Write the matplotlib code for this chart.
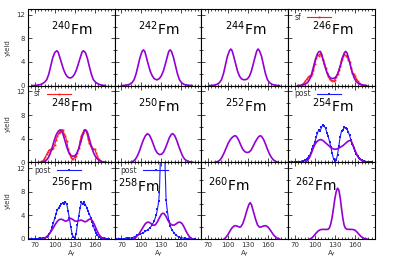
import matplotlib
matplotlib.use("Agg")
import matplotlib.pyplot as plt
from matplotlib.ticker import MultipleLocator

# ---------------- data ----------------
nuclei = ["240", "242", "244", "246", "248", "250", "252", "254", "256", "258", "260", "262"]

fm240_x = [66, 72, 78, 82, 85, 88, 91, 94, 97, 100, 103, 105, 107, 110, 113, 116, 119, 122, 124, 127, 130, 133, 136, 139, 141, 143, 146, 149, 152, 155, 158, 161, 164, 168, 172, 176]
fm240_y = [0, 0.05, 0.15, 0.35, 0.6, 1.0, 1.9, 3.3, 4.7, 5.6, 5.9, 5.7, 5.0, 3.9, 2.8, 2.0, 1.5, 1.3, 1.3, 1.5, 2.0, 2.8, 3.9, 5.0, 5.7, 5.9, 5.6, 4.6, 3.2, 1.9, 1.0, 0.6, 0.35, 0.15, 0.05, 0]

fm242_x = [70, 76, 82, 86, 89, 92, 95, 98, 101, 103, 105, 107, 110, 113, 116, 119, 122, 124, 127, 130, 133, 136, 139, 141, 143, 145, 148, 151, 154, 157, 160, 164, 170, 176]
fm242_y = [0, 0.05, 0.2, 0.5, 1.0, 2.0, 3.4, 4.8, 5.8, 6.05, 5.8, 5.0, 3.7, 2.5, 1.7, 1.2, 1.0, 1.0, 1.2, 1.7, 2.5, 3.7, 5.0, 5.8, 6.05, 5.8, 4.8, 3.4, 2.0, 1.0, 0.5, 0.2, 0.05, 0]

fm244_x = [72, 78, 83, 87, 90, 93, 96, 99, 102, 104, 106, 108, 111, 114, 117, 120, 123, 126, 129, 132, 135, 138, 141, 143, 145, 147, 150, 153, 156, 159, 162, 166, 171, 177]
fm244_y = [0, 0.05, 0.2, 0.5, 1.0, 2.0, 3.5, 5.0, 5.9, 6.2, 5.9, 5.1, 3.8, 2.5, 1.6, 1.15, 1.0, 1.0, 1.15, 1.6, 2.5, 3.8, 5.1, 5.9, 6.2, 5.9, 5.0, 3.5, 2.0, 1.0, 0.5, 0.2, 0.05, 0]

fm246_x = [74, 80, 85, 89, 92, 95, 98, 101, 104, 106, 108, 110, 112, 115, 118, 121, 124, 127, 130, 133, 136, 139, 142, 144, 146, 148, 150, 153, 156, 159, 162, 166, 171, 178]
fm246_y = [0, 0.05, 0.2, 0.5, 1.0, 1.9, 3.2, 4.5, 5.4, 5.75, 5.8, 5.4, 4.6, 3.4, 2.3, 1.6, 1.25, 1.2, 1.3, 1.7, 2.5, 3.6, 4.8, 5.5, 5.8, 5.6, 4.9, 3.6, 2.3, 1.3, 0.7, 0.3, 0.1, 0]

sf246_x = [78, 80, 82, 84, 86, 88, 90, 92, 94, 96, 98, 100, 102, 104, 106, 108, 110, 112, 114, 116, 118, 120, 122, 124, 126, 128, 130, 132, 134, 136, 138, 140, 142, 144, 146, 148, 150, 152, 154, 156, 158, 160, 162, 164, 166, 168, 170, 172, 174]
sf246_y = [0, 0.1, 0.3, 0.5, 0.8, 1.1, 1.4, 1.6, 1.7, 1.9, 2.6, 3.6, 4.6, 5.2, 5.1, 5.4, 5.2, 4.4, 3.6, 2.9, 2.2, 1.6, 1.1, 0.9, 0.8, 0.8, 1.0, 1.4, 2.0, 2.7, 3.4, 4.5, 5.0, 5.3, 5.1, 5.0, 4.4, 4.0, 3.0, 2.2, 2.0, 1.6, 1.2, 0.8, 0.5, 0.3, 0.15, 0.05, 0]

fm248_x = [78, 83, 87, 90, 93, 96, 99, 102, 105, 108, 110, 112, 115, 118, 121, 124, 127, 130, 133, 136, 139, 142, 144, 146, 148, 150, 153, 156, 159, 162, 166, 171, 177]
fm248_y = [0, 0.1, 0.3, 0.7, 1.4, 2.4, 3.6, 4.6, 5.2, 5.5, 5.4, 4.9, 3.8, 2.6, 1.7, 1.2, 1.0, 1.1, 1.5, 2.3, 3.4, 4.6, 5.2, 5.5, 5.3, 4.7, 3.5, 2.3, 1.4, 0.8, 0.35, 0.1, 0]

sf248_x = [80, 82, 84, 86, 88, 90, 92, 94, 96, 98, 100, 102, 104, 106, 108, 110, 112, 114, 116, 118, 120, 122, 124, 126, 128, 130, 132, 134, 136, 138, 140, 142, 144, 146, 148, 150, 152, 154, 156, 158, 160, 162, 164, 166, 168, 170]
sf248_y = [0, 0.2, 0.5, 0.9, 1.4, 1.8, 2.1, 2.2, 2.3, 2.5, 3.0, 3.8, 4.4, 4.9, 5.2, 5.4, 5.5, 4.8, 4.4, 3.6, 2.3, 1.5, 0.9, 0.6, 0.5, 0.9, 1.1, 1.6, 2.4, 3.6, 4.5, 5.0, 5.5, 5.5, 5.0, 4.0, 3.2, 2.7, 2.4, 2.3, 2.2, 1.6, 1.0, 0.5, 0.2, 0]

fm250_x = [84, 88, 91, 94, 97, 100, 103, 106, 109, 112, 115, 118, 121, 124, 127, 130, 133, 136, 139, 142, 145, 147, 150, 153, 156, 159, 162, 165, 169, 173, 177]
fm250_y = [0, 0.2, 0.5, 1.1, 1.9, 2.9, 3.8, 4.5, 4.85, 4.6, 3.9, 3.0, 2.1, 1.55, 1.3, 1.35, 1.7, 2.4, 3.3, 4.2, 4.75, 4.85, 4.5, 3.7, 2.7, 1.8, 1.0, 0.5, 0.2, 0.05, 0]

fm252_x = [80, 84, 88, 91, 94, 97, 100, 103, 106, 109, 111, 113, 116, 119, 122, 125, 128, 131, 134, 137, 140, 143, 146, 148, 150, 153, 156, 159, 162, 165, 168, 171, 175]
fm252_y = [0, 0.1, 0.4, 0.9, 1.6, 2.4, 3.2, 3.8, 4.2, 4.45, 4.5, 4.3, 3.7, 2.9, 2.2, 1.8, 1.65, 1.7, 2.0, 2.6, 3.3, 3.9, 4.35, 4.5, 4.4, 3.9, 3.1, 2.2, 1.4, 0.8, 0.4, 0.15, 0]

fm254_x = [85, 89, 92, 95, 98, 101, 104, 107, 109, 112, 115, 118, 121, 124, 127, 130, 133, 136, 139, 142, 145, 148, 151, 153, 155, 157, 159, 161, 164, 167, 171, 175, 180]
fm254_y = [0, 0.3, 0.8, 1.6, 2.5, 3.2, 3.6, 3.8, 3.85, 3.7, 3.4, 3.1, 2.8, 2.5, 2.3, 2.2, 2.25, 2.4, 2.6, 2.8, 3.1, 3.4, 3.65, 3.7, 3.5, 3.0, 2.4, 1.8, 1.1, 0.6, 0.25, 0.08, 0]

post254_x = [62, 66, 70, 74, 78, 82, 86, 88, 90, 92, 94, 96, 98, 100, 102, 104, 106, 108, 110, 112, 114, 116, 118, 120, 122, 124, 126, 128, 130, 132, 134, 136, 138, 140, 142, 144, 146, 148, 150, 152, 154, 156, 158, 160, 162, 164, 166, 168, 170, 172, 174, 178, 182, 186]
post254_y = [0.05, 0.05, 0.05, 0.1, 0.1, 0.2, 0.4, 0.6, 0.8, 1.1, 1.6, 2.2, 2.8, 3.4, 4.2, 5.0, 5.5, 5.3, 5.9, 6.3, 6.1, 5.8, 5.0, 4.4, 3.5, 2.6, 1.5, 0.6, 0.2, 0.3, 1.3, 2.8, 4.3, 5.3, 5.4, 5.9, 5.8, 5.7, 5.2, 4.6, 3.8, 3.1, 2.5, 1.9, 1.4, 1.0, 0.7, 0.5, 0.35, 0.25, 0.15, 0.08, 0.05, 0.02]

fm256_x = [82, 86, 90, 94, 98, 101, 104, 107, 110, 113, 116, 119, 122, 124, 127, 130, 133, 136, 139, 142, 145, 148, 151, 154, 157, 160, 163, 166, 169, 172, 175]
fm256_y = [0, 0.2, 0.6, 1.2, 1.9, 2.5, 3.0, 3.3, 3.35, 3.2, 3.0, 3.1, 3.4, 3.5, 3.3, 3.05, 3.0, 3.1, 3.2, 3.1, 2.9, 3.0, 3.3, 3.4, 3.0, 2.3, 1.5, 0.8, 0.35, 0.1, 0]

post256_x = [62, 66, 70, 74, 78, 82, 86, 88, 90, 92, 94, 96, 98, 100, 102, 104, 106, 108, 110, 112, 114, 116, 118, 120, 122, 124, 126, 128, 130, 132, 134, 136, 138, 140, 142, 144, 146, 148, 150, 152, 154, 156, 158, 160, 162, 164, 166, 168, 170, 174, 178, 182]
post256_y = [0.05, 0.05, 0.05, 0.05, 0.1, 0.1, 0.2, 0.3, 0.5, 0.8, 1.3, 2.0, 2.7, 3.5, 4.3, 4.9, 5.3, 5.6, 5.9, 6.1, 6.0, 6.2, 5.9, 4.8, 3.5, 2.0, 0.9, 0.3, 0.2, 0.9, 2.4, 3.9, 5.2, 6.2, 6.0, 6.2, 5.8, 5.3, 4.7, 4.2, 3.6, 2.9, 2.2, 1.5, 1.0, 0.6, 0.4, 0.3, 0.2, 0.1, 0.05, 0.02]

fm258_x = [88, 92, 96, 100, 103, 106, 109, 112, 115, 118, 121, 124, 127, 130, 132, 134, 137, 140, 143, 146, 149, 152, 155, 158, 161, 164, 167, 170, 173, 176]
fm258_y = [0, 0.3, 0.8, 1.5, 2.1, 2.6, 2.85, 2.8, 2.55, 2.3, 2.4, 2.9, 3.6, 4.2, 4.35, 4.3, 3.8, 3.1, 2.6, 2.35, 2.35, 2.55, 2.8, 2.85, 2.6, 2.0, 1.3, 0.7, 0.25, 0]

post258_x = [62, 66, 70, 74, 78, 82, 86, 90, 94, 98, 102, 106, 110, 113, 116, 119, 122, 124, 126, 127, 129, 131, 133, 135, 137, 139, 141, 143, 146, 149, 152, 156, 160, 165, 170, 175, 180]
post258_y = [0.05, 0.05, 0.05, 0.05, 0.1, 0.1, 0.2, 0.4, 0.6, 0.8, 1.0, 1.3, 1.6, 1.9, 2.4, 3.0, 4.0, 5.0, 6.5, 8.0, 16.0, 22.0, 21.0, 14.0, 6.6, 4.6, 3.1, 2.2, 1.5, 1.0, 0.6, 0.35, 0.2, 0.1, 0.05, 0.05, 0.02]

fm260_x = [94, 97, 100, 103, 106, 109, 111, 114, 117, 119, 122, 125, 128, 131, 133, 135, 138, 141, 144, 147, 150, 153, 156, 159, 162, 165, 168, 171, 174, 177]
fm260_y = [0, 0.3, 0.8, 1.4, 1.9, 2.2, 2.25, 2.15, 2.0, 2.05, 2.6, 3.6, 4.8, 5.8, 6.15, 5.8, 4.6, 3.4, 2.4, 2.0, 2.05, 2.2, 2.25, 2.1, 1.7, 1.2, 0.7, 0.35, 0.1, 0]

fm262_x = [93, 96, 99, 102, 105, 108, 111, 114, 117, 120, 122, 124, 126, 128, 130, 132, 134, 136, 138, 140, 142, 144, 146, 148, 151, 154, 157, 160, 163, 166, 169, 172, 175, 178]
fm262_y = [0, 0.2, 0.6, 1.0, 1.35, 1.55, 1.62, 1.62, 1.6, 1.65, 1.9, 2.6, 3.7, 5.2, 6.8, 8.0, 8.6, 8.3, 7.0, 5.2, 3.5, 2.3, 1.8, 1.65, 1.62, 1.62, 1.6, 1.5, 1.2, 0.8, 0.45, 0.2, 0.05, 0]

theory = {"240": (fm240_x, fm240_y), "242": (fm242_x, fm242_y), "244": (fm244_x, fm244_y),
          "246": (fm246_x, fm246_y), "248": (fm248_x, fm248_y), "250": (fm250_x, fm250_y),
          "252": (fm252_x, fm252_y), "254": (fm254_x, fm254_y), "256": (fm256_x, fm256_y),
          "258": (fm258_x, fm258_y), "260": (fm260_x, fm260_y), "262": (fm262_x, fm262_y)}
sf_data = {"246": (sf246_x, sf246_y), "248": (sf248_x, sf248_y)}
post_data = {"254": (post254_x, post254_y), "256": (post256_x, post256_y), "258": (post258_x, post258_y)}

x_ticks = [70, 100, 130, 160]
y_ticks = [0, 4, 8, 12]

# ---------------- figure ----------------
PURPLE = "#9400d3"
RED = "#ff1a1a"
BLUE = "#1a1aff"
GREY = "#333333"

fig, axes = plt.subplots(3, 4, figsize=(3.95, 2.62), dpi=100, sharex=True, sharey=True)
fig.subplots_adjust(left=0.071, right=0.949, top=0.966, bottom=0.088, wspace=0, hspace=0)

label_pos = {"256": (0.27, 0.63), "258": (0.04, 0.61), "260": (0.07, 0.63), "262": (0.08, 0.63)}

for i, (ax, nuc) in enumerate(zip(axes.flat, nuclei)):
    row, col = divmod(i, 4)
    tx, ty = theory[nuc]
    handles = []
    if nuc in sf_data:
        sx, sy = sf_data[nuc]
        h, = ax.plot(sx, sy, color=RED, lw=0.8, marker="s", ms=1.3, mew=0)
        handles.append((h, "sf"))
    if nuc in post_data:
        px, py = post_data[nuc]
        h, = ax.plot(px, py, color=BLUE, lw=0.8, marker="s", ms=1.5, mew=0)
        handles.append((h, "post"))
    ax.plot(tx, ty, color=PURPLE, lw=1.2)

    if handles:
        ax.legend([h for h, _ in handles], [l for _, l in handles], loc="upper left",
                  bbox_to_anchor=(0.06, 0.96), frameon=False, fontsize=5.5,
                  markerfirst=False, handlelength=3.2, handletextpad=0.8,
                  borderaxespad=0, borderpad=0.1, labelcolor=GREY)

    lx, ly = label_pos.get(nuc, (0.27, 0.66))
    ax.text(lx, ly, r"$^{%s}$Fm" % nuc, transform=ax.transAxes,
            fontsize=10, va="baseline", ha="left")

    ax.set_xlim(60, 190)
    ax.set_ylim(0, 13)
    ax.set_xticks(x_ticks)
    ax.set_yticks(y_ticks)
    ax.xaxis.set_minor_locator(MultipleLocator(5))
    ax.yaxis.set_minor_locator(MultipleLocator(2))
    ax.tick_params(which="both", direction="in", top=True, right=True,
                   labelsize=5, labelcolor=GREY, width=0.5, pad=2)
    ax.tick_params(which="major", length=3)
    ax.tick_params(which="minor", length=1.5)
    for sp in ax.spines.values():
        sp.set_linewidth(0.8)
    if col == 0:
        ax.set_ylabel("yield", fontsize=5, color=GREY, labelpad=4)
    if row == 2:
        ax.set_xlabel(r"A$_f$", fontsize=5, color=GREY, labelpad=1)

fig.savefig("out.png", dpi=100)
